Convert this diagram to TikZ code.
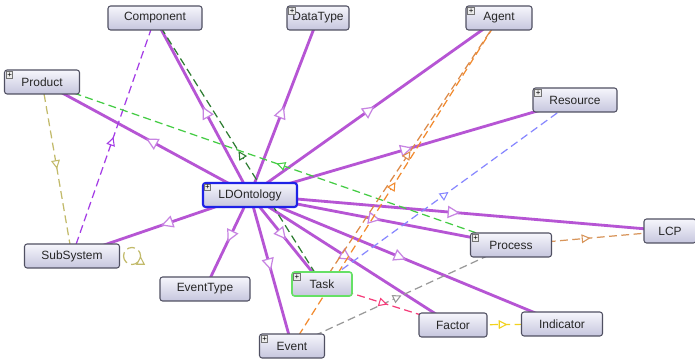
\documentclass[tikz,border=0pt]{standalone}
\usepackage{fontspec}
\setmainfont{Liberation Sans}
\usetikzlibrary{arrows.meta,decorations.markings}
\pgfdeclarelayer{edges}
\pgfsetlayers{edges,main}
\definecolor{boxline}{HTML}{505062}
\definecolor{boxtop}{HTML}{F6F6FC}
\definecolor{boxbot}{HTML}{C6C6DE}
\definecolor{isapurple}{HTML}{B655D4}
\definecolor{isatip}{HTML}{C784E2}
\definecolor{rootblue}{HTML}{1E22E6}
\definecolor{taskgreen}{HTML}{66E066}
\definecolor{partviolet}{HTML}{A43CE6}
\definecolor{darkgreen}{HTML}{2E7D32}
\definecolor{lightgreen}{HTML}{44CC44}
\definecolor{khaki}{HTML}{C2BA6A}
\definecolor{agentorange}{HTML}{F28A2E}
\definecolor{agentbrown}{HTML}{DD8A48}
\definecolor{resblue}{HTML}{8888FF}
\definecolor{lcpbrown}{HTML}{D8955A}
\definecolor{evgrey}{HTML}{999999}
\definecolor{factpink}{HTML}{F53C7A}
\definecolor{indyellow}{HTML}{F2D21E}

\begin{document}
\begin{tikzpicture}[x=0.2mm, y=-0.2mm,
    cls/.style={draw=boxline, line width=0.6pt, rounded corners=1.5pt,
        top color=boxtop, bottom color=boxbot, minimum height=4.8mm,
        inner sep=1pt, text=black!85, font=\fontsize{6.8}{8}\selectfont},
    bw/.style={minimum width=#1*0.2mm},
    plusicon/.style={draw=black!55, fill=black!8, minimum size=1.3mm, inner sep=0pt,
        anchor=north west, font=\fontsize{4.5}{4.5}\selectfont},
    isa/.style={line width=1.6pt, draw=isapurple, postaction={decorate},
        decoration={markings, mark=at position 0.5 with
            {\arrow[color=isatip]{Triangle[fill=white, length=7pt, width=7pt, line width=0.7pt]}}}},
    rel/.style={draw=#1, line width=0.7pt, dash pattern=on 4.5pt off 2.5pt, postaction={decorate},
        decoration={markings, mark=at position 0.5 with
            {\arrow[color=#1]{Triangle[fill=white, length=5pt, width=5pt, line width=0.6pt]}}}}
]
    \useasboundingbox (0,0) rectangle (695,359);

    % classes
    \node[cls, bw=94] (Component) at (155,18) {Component};
    \node[cls, bw=62] (DataType) at (318,18) {DataType};
    \node[cls, bw=66] (Agent) at (499,18) {Agent};
    \node[cls, bw=75] (Product) at (42,82) {Product};
    \node[cls, bw=84] (Resource) at (575,100) {Resource};
    \node[cls, bw=94, draw=rootblue, line width=1.2pt] (LDOntology) at (250,195) {LDOntology};
    \node[cls, bw=95] (SubSystem) at (72,256) {SubSystem};
    \node[cls, bw=90] (EventType) at (205,289) {EventType};
    \node[cls, bw=60, draw=taskgreen, line width=0.9pt] (Task) at (322,284) {Task};
    \node[cls, bw=65] (Event) at (292,346) {Event};
    \node[cls, bw=81] (Process) at (511,245) {Process};
    \node[cls, bw=52] (LCP) at (670,231) {LCP};
    \node[cls, bw=68] (Factor) at (453,325) {Factor};
    \node[cls, bw=81] (Indicator) at (562,324) {Indicator};

    % expand icons
    \foreach \n in {DataType,Agent,Product,Resource,LDOntology,Task,Event,Process}
        \node[plusicon] (\n-plus) at ([shift={(2,2)}]\n.north west) {+};

    \begin{pgfonlayer}{edges}
        \fill[white] (0,0) rectangle (695,359);
        % subclass links
        \foreach \n in {Component,DataType,Agent,Product,Resource,SubSystem,EventType,
                        Event,Task,LCP,Process,Indicator,Factor}
            \draw[isa] (LDOntology.center) -- (\n.center);
        % object properties
        \draw[rel=partviolet] (SubSystem.center) -- (Component.center);
        \draw[rel=darkgreen] (Task.center) -- (Component.center);
        \draw[rel=lightgreen] (Process.center) -- (Product.center);
        \draw[rel=khaki] (Product.center) -- (SubSystem.center);
        \draw[rel=agentorange] (Event.center) -- (Agent.center);
        \draw[rel=agentbrown] (Task.center) -- (Agent.center);
        \draw[rel=resblue] (Task.center) -- (Resource.center);
        \draw[rel=lcpbrown] (Process.center) -- (LCP.center);
        \draw[rel=evgrey] (Event.center) -- (Process.center);
        \draw[rel=factpink] (Task.center) -- (Factor.center);
        \draw[rel=indyellow] (Factor.center) -- (Indicator.center);
    \end{pgfonlayer}
    % self loop
    \draw[rel=khaki] ([xshift=2]SubSystem.east) arc[start angle=180, end angle=540, radius=1.7mm];
\end{tikzpicture}
\end{document}
